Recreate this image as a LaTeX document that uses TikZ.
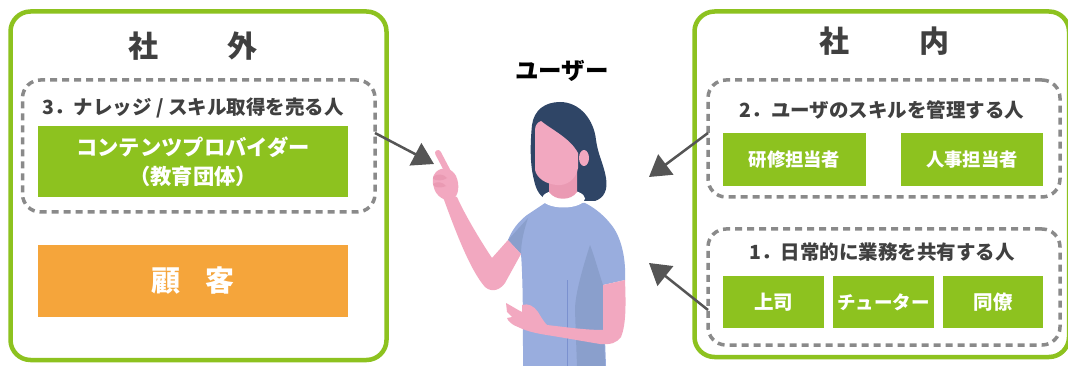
\documentclass[tikz,border=0pt]{standalone}
\usepackage{fontspec}
\setmainfont{Noto Sans CJK JP}
\usetikzlibrary{arrows.meta}

\definecolor{leaf}{HTML}{8DC21F}
\definecolor{amber}{HTML}{F5A53B}
\definecolor{dashgray}{HTML}{8A8A8A}
\definecolor{ink}{HTML}{404040}
\definecolor{arrowgray}{HTML}{555555}
\definecolor{hair}{HTML}{2F4566}
\definecolor{skin}{HTML}{F2A8C0}
\definecolor{skindark}{HTML}{EA9AB3}
\definecolor{shirt}{HTML}{99ADDE}
\definecolor{shirtdark}{HTML}{8A9FCC}
\definecolor{seam}{HTML}{7B91CF}

\tikzset{
  panel/.style={draw=leaf, line width=4.5pt, rounded corners=20pt,
    inner sep=0pt, outer sep=0pt},
  group/.style={draw=dashgray, line width=3.5pt, dash pattern=on 7pt off 5pt,
    rounded corners=18pt, inner sep=0pt, outer sep=0pt},
  gbox/.style={fill=leaf, text=white, inner sep=0pt, outer sep=0pt, align=center},
  obox/.style={fill=amber, text=white, inner sep=0pt, outer sep=0pt, align=center},
  paneltitle/.style={text=ink, inner sep=0pt, font=\bfseries\fontsize{30}{30}\selectfont},
  grouplabel/.style={text=ink, inner sep=0pt, font=\bfseries\fontsize{19.5}{19.5}\selectfont},
  arr/.style={draw=arrowgray, line width=2.5pt, -{Triangle[length=21pt,width=25pt]}},
}

\begin{document}
\begin{tikzpicture}[x=1pt,y=-1pt]
  \useasboundingbox (0,0) rectangle (1068,366);
  \fill[white] (0,0) rectangle (1068,366);

  % ---------- outside the company ----------
  \node[panel, minimum width=376pt, minimum height=348.5pt] (outside) at (198.5,185.75) {};
  \node[paneltitle] (outsideTitle) at (193,46) {社\hspace{70pt}外};
  \node[group, minimum width=352.5pt, minimum height=132pt] (ext) at (198.75,146) {};
  \node[grouplabel] (extLabel) at (193,107.5) {3．ナレッジ / スキル取得を売る人};
  \node[gbox, minimum width=310pt, minimum height=71pt,
        font=\bfseries\fontsize{21.3}{29}\selectfont] (provider) at (193,161.5)
        {コンテンツプロバイダー\\（教育団体）};
  \node[obox, minimum width=310pt, minimum height=72pt,
        font=\bfseries\fontsize{29}{29}\selectfont] (client) at (193,281)
        {顧\hspace{26pt}客};

  % ---------- inside the company ----------
  \node[panel, minimum width=374.5pt, minimum height=345.5pt] (inside) at (881.75,184.25) {};
  \node[paneltitle] (insideTitle) at (884,41) {社\hspace{70pt}内};
  \node[group, minimum width=352pt, minimum height=117pt] (mgr) at (884,138.5) {};
  \node[grouplabel] (mgrLabel) at (882,110.5) {2．ユーザのスキルを管理する人};
  \node[gbox, minimum width=143pt, minimum height=53pt,
        font=\bfseries\fontsize{18.3}{18.3}\selectfont] (training) at (794.5,159.5) {研修担当者};
  \node[gbox, minimum width=142pt, minimum height=53pt,
        font=\bfseries\fontsize{18.3}{18.3}\selectfont] (hr) at (972,159.5) {人事担当者};
  \node[group, minimum width=352pt, minimum height=116pt] (peer) at (884,287) {};
  \node[grouplabel] (peerLabel) at (882,252) {1．日常的に業務を共有する人};
  \node[gbox, minimum width=101pt, minimum height=52pt,
        font=\bfseries\fontsize{19.5}{19.5}\selectfont] (boss) at (773.5,302) {上司};
  \node[gbox, minimum width=101pt, minimum height=52pt,
        font=\bfseries\fontsize{18.5}{18.5}\selectfont] (tutor) at (883.5,302) {チューター};
  \node[gbox, minimum width=100pt, minimum height=52pt,
        font=\bfseries\fontsize{19.5}{19.5}\selectfont] (colleague) at (993,302) {同僚};

  % ---------- the user ----------
  \node[text=black, inner sep=0pt, font=\bfseries\fontsize{23.5}{23.5}\selectfont] (userLabel) at (562,71) {ユーザー};

  % hair (back)
  \fill[hair] (560,102) .. controls (545,102) and (534,110) .. (532,125)
    .. controls (530,145) and (530,165) .. (534,180)
    .. controls (536,190) and (540,197) .. (548,200) -- (595,201)
    .. controls (604,198) and (608,190) .. (606,178)
    .. controls (604,165) and (598,155) .. (596,140)
    .. controls (594,120) and (580,102) .. (560,102) -- cycle;

  % shirt
  \fill[shirt] (545,203) -- (527,215) .. controls (518,222) and (512,230) .. (508,240)
    -- (521,254) .. controls (523,280) and (523,320) .. (523,366) -- (606,366)
    -- (603,285) -- (625,280) .. controls (626,260) and (622,240) .. (613,227)
    .. controls (605,216) and (595,208) .. (585,203) -- cycle;
  \fill[shirtdark] (508,240) -- (528,218) .. controls (524,230) and (521,242) .. (521,254) -- cycle;
  \fill[shirtdark] (590,245) .. controls (582,270) and (575,295) .. (575,310)
    -- (577,366) -- (605,366) -- (603,285) .. controls (598,270) and (594,255) .. (590,245) -- cycle;
  \draw[seam, line width=1pt] (567,280) -- (567,366);

  % collar and neck
  \fill[white] (563.5,198.5) ellipse [x radius=21.5pt, y radius=9pt];
  \fill[skindark] (549,170) -- (549,192) .. controls (555,201) and (571,201) .. (577,192) -- (577,170) -- cycle;

  % face and ear
  \fill[skin] (541,121) .. controls (552,130) and (570,138) .. (578,153) -- (578,168)
    .. controls (576,180) and (566,186) .. (557,185)
    .. controls (545,184) and (537,178) .. (535,170) -- (535,130)
    .. controls (535,125) and (538,122) .. (541,121) -- cycle;
  \fill[skin] (584,158) ellipse [x radius=5pt, y radius=8pt];

  % raised arm and pointing hand
  \fill[skin] (508,240) -- (492,258) .. controls (480,240) and (465,215) .. (457,197)
    -- (443,197) .. controls (455,230) and (470,270) .. (485,287)
    .. controls (492,293) and (500,290) .. (505,283) -- (521,254) -- cycle;
  \fill[skin] (436,172) .. controls (442,166) and (452,168) .. (456,176)
    .. controls (460,185) and (459,196) .. (452,200)
    .. controls (445,202) and (436,196) .. (434,188)
    .. controls (432,182) and (432,176) .. (436,172) -- cycle;
  \draw[skin, line width=6pt, line cap=round] (448,172) -- (438,153);
  \fill[skindark] (433,177) .. controls (437,173) and (444,174) .. (447,178)
    .. controls (443,181) and (437,181) .. (433,179) -- cycle;
  \fill[skindark] (433,184) .. controls (437,181) and (443,182) .. (446,186)
    .. controls (442,188) and (437,188) .. (434,186) -- cycle;

  % lowered arm and hand
  \fill[skin] (603,285) -- (625,280) .. controls (626,305) and (626,325) .. (621,337)
    .. controls (617,343) and (610,345) .. (600,344) -- (553,336)
    .. controls (540,334) and (528,332) .. (518,327)
    .. controls (512,325) and (508,321) .. (507,318) -- (512,317) -- (507,312) -- (506,303)
    .. controls (510,305) and (516,309) .. (522,312) -- (522,305)
    .. controls (528,303) and (534,306) .. (538,312)
    .. controls (541,317) and (544,322) .. (547,325)
    .. controls (565,327) and (585,330) .. (603,330) -- cycle;

  % ---------- connectors ----------
  \coordinate (userLeft) at (434,164);
  \coordinate (userUpper) at (649,177);
  \coordinate (userLower) at (649,263);
  \draw[arr] ([yshift=13pt]ext.east) -- (userLeft);
  \draw[arr] ([yshift=5.5pt]mgr.west) -- (userUpper);
  \draw[arr] ([yshift=-23pt]peer.west) -- (userLower);
\end{tikzpicture}
\end{document}
